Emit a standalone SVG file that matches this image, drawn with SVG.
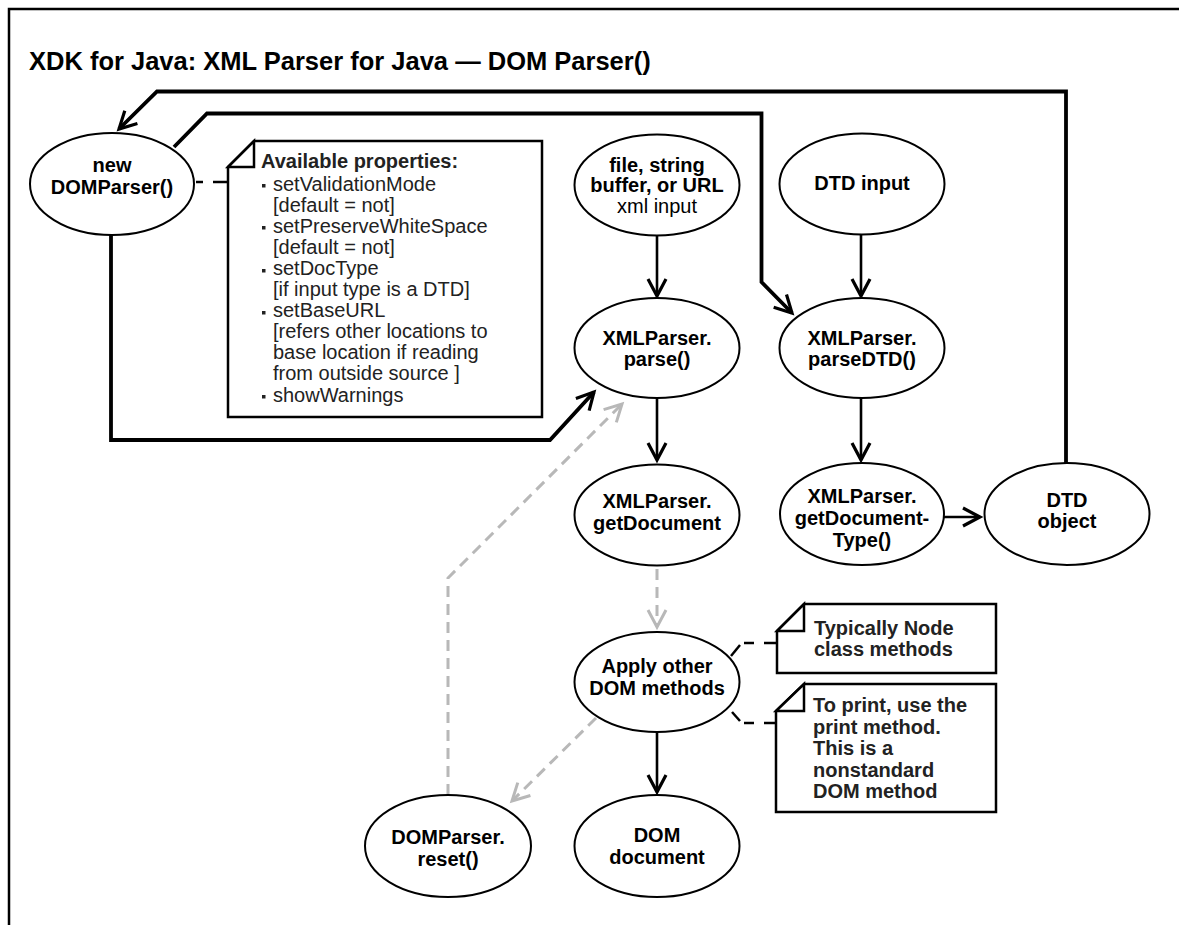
<svg xmlns="http://www.w3.org/2000/svg" width="1179" height="925" viewBox="0 0 1179 925">
<style>
.frame{stroke:#000;stroke-width:2.5;fill:none}
.title{font-family:"Liberation Sans",Arial,sans-serif;font-weight:bold;font-size:25.5px;fill:#000}
.node ellipse{fill:#fff;stroke:#000;stroke-width:2}
.lbl{font-family:"Liberation Sans",Arial,sans-serif;font-weight:bold;font-size:20px;fill:#000;text-anchor:middle}
.lblr{font-family:"Liberation Sans",Arial,sans-serif;font-weight:normal;font-size:20px;fill:#000;text-anchor:middle}
.note path{fill:#fff;stroke:#000;stroke-width:2.5;stroke-linejoin:miter}
.nt{font-family:"Liberation Sans",Arial,sans-serif;font-size:20px;fill:#222}
.ntb{font-family:"Liberation Sans",Arial,sans-serif;font-size:20px;font-weight:bold;fill:#222}
.thick{fill:none;stroke:#000;stroke-width:3.8;stroke-linejoin:miter}
.med{fill:none;stroke:#000;stroke-width:2.6}
.gray{fill:none;stroke:#b8b8b8;stroke-width:3;stroke-dasharray:11 7}
.dash{fill:none;stroke:#000;stroke-width:2.5}
</style>
<defs>
<marker id="ak" markerUnits="userSpaceOnUse" markerWidth="40" markerHeight="40" viewBox="-20 -20 40 40" refX="0" refY="0" orient="auto" overflow="visible">
<path d="M-17,-9 L0,0 L-17,9" fill="none" stroke="#000" stroke-width="3.2"/>
</marker>
<marker id="ag" markerUnits="userSpaceOnUse" markerWidth="40" markerHeight="40" viewBox="-20 -20 40 40" refX="0" refY="0" orient="auto" overflow="visible">
<path d="M-17,-9 L0,0 L-17,9" fill="none" stroke="#b8b8b8" stroke-width="3"/>
</marker>
</defs>
<rect width="1179" height="925" fill="#fff"/>
<path class="frame" d="M9,925 V9 H1179"/>
<text class="title" x="29" y="70">XDK for Java: XML Parser for Java — DOM Parser()</text>

<g id="connectors">
<polyline class="thick" points="1066,463 1066,91.5 157,91.5 119,129" marker-end="url(#ak)"/>
<polyline class="thick" points="174,147 207,113.5 761.5,113.5 761.5,282 792,313" marker-end="url(#ak)"/>
<polyline class="thick" points="111,235 111,440 550,440 594,392" marker-end="url(#ak)"/>
<line class="med" x1="657" y1="235" x2="657" y2="296" marker-end="url(#ak)"/>
<line class="med" x1="861" y1="235" x2="861" y2="296" marker-end="url(#ak)"/>
<line class="med" x1="657" y1="398" x2="657" y2="460" marker-end="url(#ak)"/>
<line class="med" x1="861" y1="398" x2="861" y2="460" marker-end="url(#ak)"/>
<line class="med" x1="944" y1="517" x2="980" y2="517" marker-end="url(#ak)"/>
<line class="med" x1="657" y1="732" x2="657" y2="792" marker-end="url(#ak)"/>
<line class="gray" x1="657" y1="569" x2="657" y2="627" marker-end="url(#ag)"/>
<line class="gray" x1="596" y1="718" x2="512" y2="801" marker-end="url(#ag)"/>
<polyline class="gray" points="448,795 448,578 622,404" marker-end="url(#ag)"/>
<line class="dash" x1="196" y1="182" x2="203" y2="182"/>
<line class="dash" x1="213" y1="182" x2="227" y2="182"/>
<line class="dash" x1="731" y1="656" x2="740" y2="645"/>
<line class="dash" x1="744" y1="643" x2="754" y2="643"/>
<line class="dash" x1="764" y1="643" x2="776" y2="643"/>
<line class="dash" x1="732" y1="712" x2="740" y2="721"/>
<line class="dash" x1="744" y1="723" x2="754" y2="723"/>
<line class="dash" x1="764" y1="723" x2="776" y2="723"/>
</g>

<g id="n-new" class="node">
<ellipse cx="112" cy="184" rx="82" ry="51"/>
<text class="lbl" x="112" y="172">new</text>
<text class="lbl" x="112" y="194">DOMParser()</text>
</g>

<g id="note-props" class="note">
<path d="M254,141 H542 V417 H228 V167 Z"/>
<path d="M228,167 L254,141 V167 Z"/>
<text class="ntb" x="261" y="168">Available properties:</text>
<g fill="#222">
<rect x="262" y="184" width="3.5" height="3.5"/>
<rect x="262" y="226" width="3.5" height="3.5"/>
<rect x="262" y="269" width="3.5" height="3.5"/>
<rect x="262" y="311" width="3.5" height="3.5"/>
<rect x="262" y="395" width="3.5" height="3.5"/>
</g>
<text class="nt" x="273" y="190.5">setValidationMode</text>
<text class="nt" x="273" y="211.6">[default = not]</text>
<text class="nt" x="273" y="232.7">setPreserveWhiteSpace</text>
<text class="nt" x="273" y="253.8">[default = not]</text>
<text class="nt" x="273" y="274.9">setDocType</text>
<text class="nt" x="273" y="296">[if input type is a DTD]</text>
<text class="nt" x="273" y="317.1">setBaseURL</text>
<text class="nt" x="273" y="338.2">[refers other locations to</text>
<text class="nt" x="273" y="359.3">base location if reading</text>
<text class="nt" x="273" y="380.4">from outside source ]</text>
<text class="nt" x="273" y="401.5">showWarnings</text>
</g>

<g id="n-input" class="node">
<ellipse cx="657" cy="185" rx="82.5" ry="50.5"/>
<text class="lbl" x="657" y="172">file, string</text>
<text class="lbl" x="657" y="192">buffer, or URL</text>
<text class="lblr" x="657" y="213">xml input</text>
</g>

<g id="n-dtdinput" class="node">
<ellipse cx="862" cy="184" rx="82.5" ry="50.5"/>
<text class="lbl" x="862" y="190">DTD input</text>
</g>

<g id="n-parse" class="node">
<ellipse cx="657" cy="348" rx="82.5" ry="50"/>
<text class="lbl" x="657" y="345">XMLParser.</text>
<text class="lbl" x="657" y="366">parse()</text>
</g>

<g id="n-parsedtd" class="node">
<ellipse cx="862" cy="348" rx="82.5" ry="50"/>
<text class="lbl" x="862" y="345">XMLParser.</text>
<text class="lbl" x="862" y="366">parseDTD()</text>
</g>

<g id="n-getdoc" class="node">
<ellipse cx="657" cy="515" rx="82.5" ry="50.5"/>
<text class="lbl" x="657" y="508">XMLParser.</text>
<text class="lbl" x="657" y="530">getDocument</text>
</g>

<g id="n-getdoctype" class="node">
<ellipse cx="862" cy="514" rx="82" ry="51"/>
<text class="lbl" x="862" y="503">XMLParser.</text>
<text class="lbl" x="862" y="525">getDocument-</text>
<text class="lbl" x="862" y="547">Type()</text>
</g>

<g id="n-dtdobject" class="node">
<ellipse cx="1067" cy="514" rx="82.5" ry="51"/>
<text class="lbl" x="1067" y="507">DTD</text>
<text class="lbl" x="1067" y="528">object</text>
</g>

<g id="n-apply" class="node">
<ellipse cx="657" cy="682" rx="82.5" ry="50"/>
<text class="lbl" x="657" y="673">Apply other</text>
<text class="lbl" x="657" y="695">DOM methods</text>
</g>

<g id="n-domdoc" class="node">
<ellipse cx="657" cy="846" rx="82.5" ry="51"/>
<text class="lbl" x="657" y="842">DOM</text>
<text class="lbl" x="657" y="864">document</text>
</g>

<g id="n-reset" class="node">
<ellipse cx="448" cy="846" rx="83" ry="51"/>
<text class="lbl" x="448" y="844">DOMParser.</text>
<text class="lbl" x="448" y="866">reset()</text>
</g>

<g id="note-node" class="note">
<path d="M804,604 H996 V673 H777 V631 Z"/>
<path d="M777,631 L804,604 V631 Z"/>
<text class="ntb" x="814" y="635" fill="#000">Typically Node</text>
<text class="ntb" x="814" y="656" fill="#000">class methods</text>
</g>

<g id="note-print" class="note">
<path d="M804,684 H996 V812 H776 V711 Z"/>
<path d="M776,711 L804,684 V711 Z"/>
<text class="ntb" x="813" y="712">To print, use the</text>
<text class="ntb" x="813" y="733.5">print method.</text>
<text class="ntb" x="813" y="755">This is a</text>
<text class="ntb" x="813" y="776.5">nonstandard</text>
<text class="ntb" x="813" y="798">DOM method</text>
</g>
</svg>
